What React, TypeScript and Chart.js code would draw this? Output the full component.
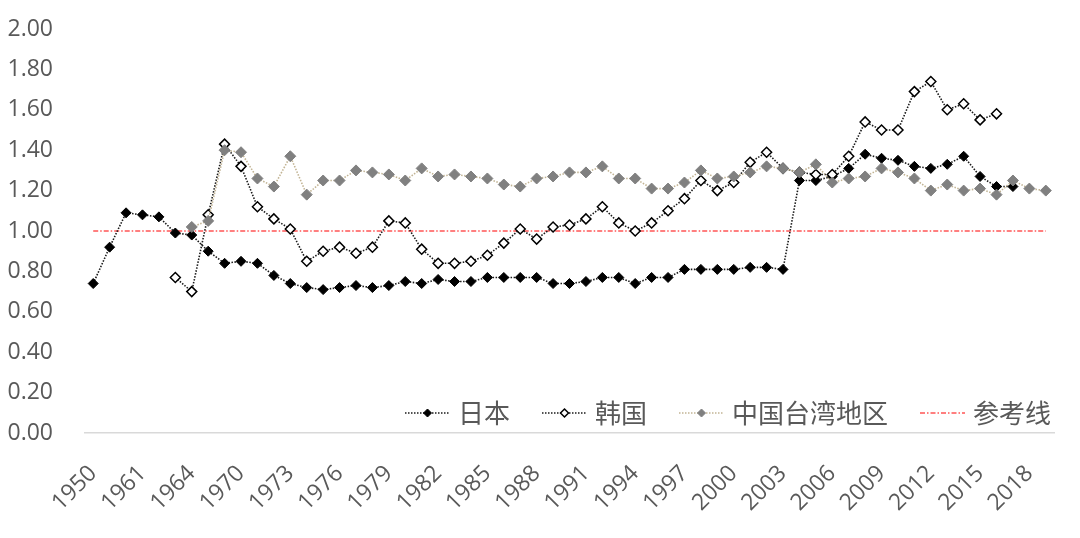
import React, { useEffect, useRef } from "react";
import { Chart, registerables } from "chart.js";

Chart.register(...registerables);

// ---------- data ----------
const years: string[] = [
  "1950", "1955", "1960", "1961", "1962", "1963", "1964", "1966", "1968",
  "1970", "1971", "1972", "1973", "1974", "1975", "1976", "1977", "1978", "1979",
  "1980", "1981", "1982", "1983", "1984", "1985", "1986", "1987", "1988", "1989",
  "1990", "1991", "1992", "1993", "1994", "1995", "1996", "1997", "1998", "1999",
  "2000", "2001", "2002", "2003", "2004", "2005", "2006", "2007", "2008", "2009",
  "2010", "2011", "2012", "2013", "2014", "2015", "2016", "2017", "2018", "2019",
];

const japan: (number | null)[] = [
  0.74, 0.92, 1.09, 1.08, 1.07, 0.99, 0.98, 0.90, 0.84,
  0.85, 0.84, 0.78, 0.74, 0.72, 0.71, 0.72, 0.73, 0.72, 0.73,
  0.75, 0.74, 0.76, 0.75, 0.75, 0.77, 0.77, 0.77, 0.77, 0.74,
  0.74, 0.75, 0.77, 0.77, 0.74, 0.77, 0.77, 0.81, 0.81, 0.81,
  0.81, 0.82, 0.82, 0.81, 1.25, 1.25, 1.27, 1.31, 1.38, 1.36,
  1.35, 1.32, 1.31, 1.33, 1.37, 1.27, 1.22, 1.22, null, null,
];

const korea: (number | null)[] = [
  null, null, null, null, null, 0.77, 0.70, 1.08, 1.43,
  1.32, 1.12, 1.06, 1.01, 0.85, 0.90, 0.92, 0.89, 0.92, 1.05,
  1.04, 0.91, 0.84, 0.84, 0.85, 0.88, 0.94, 1.01, 0.96, 1.02,
  1.03, 1.06, 1.12, 1.04, 1.00, 1.04, 1.10, 1.16, 1.25, 1.20,
  1.24, 1.34, 1.39, 1.31, 1.29, 1.28, 1.28, 1.37, 1.54, 1.50,
  1.50, 1.69, 1.74, 1.60, 1.63, 1.55, 1.58, null, null, null,
];

const taiwan: (number | null)[] = [
  null, null, null, null, null, null, 1.02, 1.05, 1.40,
  1.39, 1.26, 1.22, 1.37, 1.18, 1.25, 1.25, 1.30, 1.29, 1.28,
  1.25, 1.31, 1.27, 1.28, 1.27, 1.26, 1.23, 1.22, 1.26, 1.27,
  1.29, 1.29, 1.32, 1.26, 1.26, 1.21, 1.21, 1.24, 1.30, 1.26,
  1.27, 1.29, 1.32, 1.31, 1.29, 1.33, 1.24, 1.26, 1.27, 1.31,
  1.29, 1.26, 1.20, 1.23, 1.20, 1.21, 1.18, 1.25, 1.21, 1.20,
];

const referenceValue = 1.0;
const reference: number[] = years.map(() => referenceValue);

const seriesNames = ["日本", "韩国", "中国台湾地区", "参考线"];
const yTicks = { min: 0, max: 2, step: 0.2 };
const labelEvery = 3;

// ---------- styles ----------
const TEXT_COLOR = "#595959";
const LATIN_FONT = "'Open Sans', 'Noto Sans', sans-serif";
const CJK_FONT = "'Noto Sans CJK SC', sans-serif";
const DOT = [1.5, 1.5];
const REF_DASH = [5, 2, 1.5, 2];
const REF_COLOR = "#ff0000";

const STYLES = [
  { line: "#1a1a1a", dash: DOT, width: 1.6, fill: "#000000", stroke: "#000000", pbw: 1, r: 5 },
  { line: "#1a1a1a", dash: DOT, width: 1.6, fill: "#ffffff", stroke: "#000000", pbw: 1.5, r: 5 },
  { line: "#c2b494", dash: DOT, width: 1.6, fill: "#808080", stroke: "#808080", pbw: 1, r: 5.5 },
  { line: REF_COLOR, dash: REF_DASH, width: 1.2, fill: REF_COLOR, stroke: REF_COLOR, pbw: 0, r: 0 },
];

const LEGEND = { x: 405, y: 413, lineLen: 45, textGap: 8, itemGap: 32, fontSize: 26, markerR: 4 };

function diamond(ctx: CanvasRenderingContext2D, x: number, y: number, r: number) {
  ctx.beginPath();
  ctx.moveTo(x, y - r);
  ctx.lineTo(x + r, y);
  ctx.lineTo(x, y + r);
  ctx.lineTo(x - r, y);
  ctx.closePath();
}

const legendPlugin = {
  id: "insideLegend",
  afterDraw(chart: any) {
    const ctx: CanvasRenderingContext2D = chart.ctx;
    ctx.save();
    ctx.font = `${LEGEND.fontSize}px ${CJK_FONT}`;
    ctx.textBaseline = "middle";
    ctx.textAlign = "left";
    let x = LEGEND.x;
    const y = LEGEND.y;
    seriesNames.forEach((name, i) => {
      const s = STYLES[i];
      ctx.save();
      ctx.beginPath();
      ctx.setLineDash(s.dash);
      ctx.strokeStyle = s.line;
      ctx.lineWidth = s.width;
      ctx.moveTo(x, y);
      ctx.lineTo(x + LEGEND.lineLen, y);
      ctx.stroke();
      ctx.restore();
      if (s.r > 0) {
        diamond(ctx, x + LEGEND.lineLen / 2, y, LEGEND.markerR);
        ctx.fillStyle = s.fill;
        ctx.fill();
        ctx.lineWidth = s.pbw;
        ctx.strokeStyle = s.stroke;
        ctx.stroke();
      }
      ctx.fillStyle = TEXT_COLOR;
      ctx.fillText(name, x + LEGEND.lineLen + LEGEND.textGap, y);
      x += LEGEND.lineLen + LEGEND.textGap + ctx.measureText(name).width + LEGEND.itemGap;
    });
    ctx.restore();
  },
};

function makeDataset(i: number, data: (number | null)[], order: number) {
  const s = STYLES[i];
  return {
    label: seriesNames[i],
    data,
    borderColor: s.line,
    borderWidth: s.width,
    borderDash: s.dash,
    pointStyle: "rectRot" as const,
    pointRadius: s.r,
    pointHoverRadius: s.r,
    pointBackgroundColor: s.fill,
    pointBorderColor: s.stroke,
    pointBorderWidth: s.pbw,
    tension: 0,
    order,
  };
}

export default function App() {
  const canvasRef = useRef<HTMLCanvasElement | null>(null);

  useEffect(() => {
    document.body.style.margin = "0";
    const canvas = canvasRef.current;
    if (!canvas) return;
    const chart = new Chart(canvas, {
      type: "line",
      data: {
        labels: years,
        datasets: [
          makeDataset(0, japan, 3),
          makeDataset(1, korea, 2),
          makeDataset(2, taiwan, 1),
          makeDataset(3, reference, 4),
        ],
      },
      options: {
        animation: false,
        responsive: true,
        maintainAspectRatio: false,
        layout: { padding: { top: 29, right: 26, bottom: 0, left: 0 } },
        plugins: {
          legend: { display: false },
          tooltip: { enabled: false },
        },
        scales: {
          x: {
            type: "category",
            offset: true,
            grid: {
              display: true,
              drawOnChartArea: false,
              drawTicks: true,
              tickLength: 27,
              tickColor: "rgba(0,0,0,0)",
            },
            border: { display: true, color: "#d9d9d9", width: 1.5 },
            afterFit: (scale: any) => {
              scale.height = 105;
            },
            ticks: {
              autoSkip: false,
              minRotation: 45,
              maxRotation: 45,
              padding: 0,
              color: TEXT_COLOR,
              font: { family: LATIN_FONT, size: 23 },
              callback: (_v: any, i: number) => (i % labelEvery === 0 ? years[i] : ""),
            },
          },
          y: {
            min: yTicks.min,
            max: yTicks.max,
            grid: {
              display: true,
              drawOnChartArea: false,
              drawTicks: true,
              tickLength: 30,
              tickColor: "rgba(0,0,0,0)",
            },
            border: { display: false },
            afterFit: (scale: any) => {
              scale.width = 85;
            },
            ticks: {
              stepSize: yTicks.step,
              padding: 2,
              color: TEXT_COLOR,
              font: { family: LATIN_FONT, size: 23 },
              callback: (v: any) => Number(v).toFixed(2),
            },
          },
        },
      },
      plugins: [legendPlugin],
    });
    return () => chart.destroy();
  }, []);

  return (
    <div style={{ position: "relative", width: "1080px", height: "538px", background: "#ffffff" }}>
      <canvas ref={canvasRef} />
    </div>
  );
}
